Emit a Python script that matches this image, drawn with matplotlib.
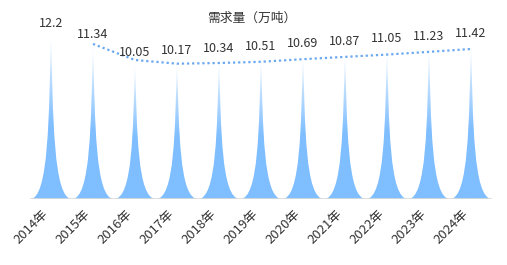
import numpy as np
import matplotlib
matplotlib.use("Agg")
import matplotlib.pyplot as plt
from matplotlib.path import Path
from matplotlib.patches import PathPatch

plt.rcParams['font.family'] = ['Noto Sans CJK SC', 'DejaVu Sans']

years = ['2014年', '2015年', '2016年', '2017年', '2018年', '2019年',
         '2020年', '2021年', '2022年', '2023年', '2024年']
demand = [12.2, 11.34, 10.05, 10.17, 10.34, 10.51, 10.69, 10.87, 11.05, 11.23, 11.42]
labels = ['12.2', '11.34', '10.05', '10.17', '10.34', '10.51', '10.69', '10.87', '11.05', '11.23', '11.42']
# dotted trend line (2015-2024)
trend_years = years[1:]
trend = [11.40, 10.22, 9.95, 10.00, 10.09, 10.28, 10.45, 10.62, 10.82, 11.03]

title = '需求量（万吨）'
bar_rgb = np.array([127, 190, 255]) / 255.0
line_color = '#6aa8f0'

W, H, DPI = 507, 265, 100
fig = plt.figure(figsize=(W / DPI, H / DPI), dpi=DPI)
left_px, right_px, base_px = 30, 492, 199
ymax = 14.0
px_per_unit = 13.6
top_px = base_px - ymax * px_per_unit
ax = fig.add_axes([left_px / W, 1 - base_px / H, (right_px - left_px) / W, (base_px - top_px) / H])
ax.set_xlim(-0.5, len(years) - 0.5)
ax.set_ylim(0, ymax)
for s in ax.spines.values():
    s.set_visible(False)
ax.set_yticks([])

# gradient image: transparent at top -> solid at lower part
n = 256
t = np.linspace(0, 1, n)  # 0 bottom, 1 top
alpha = np.clip((1 - t) / 0.55, 0, 1) ** 0.9
grad = np.zeros((n, 1, 4))
grad[:, 0, 0:3] = bar_rgb
grad[:, 0, 3] = alpha

for i, v in enumerate(demand):
    def P(xn, yn):
        return (i - 0.5 + xn, v * (1 - yn))
    verts = [P(1, 1), P(0.55, 1), P(0.55, 0.5), P(0.5, 0),
             P(0.45, 0.5), P(0.45, 1), P(0, 1), P(1, 1)]
    codes = [Path.MOVETO, Path.CURVE4, Path.CURVE4, Path.CURVE4,
             Path.CURVE4, Path.CURVE4, Path.CURVE4, Path.CLOSEPOLY]
    patch = PathPatch(Path(verts, codes), facecolor='none', edgecolor='none')
    ax.add_patch(patch)
    im = ax.imshow(grad, extent=(i - 0.5, i + 0.5, 0, v), origin='lower',
                   aspect='auto', interpolation='bilinear', zorder=2)
    im.set_clip_path(patch)
    ax.annotate(labels[i], (i, v), xytext=(0, 2.5), textcoords='offset points',
                ha='center', va='bottom', fontsize=9, color='#333333', zorder=5)

tx = [years.index(y) for y in trend_years]
ax.plot(tx, trend, color=line_color, lw=1.6, linestyle=(0, (1, 1.3)), zorder=3)

ax.axhline(0, color='#dcdcdc', lw=1.2, zorder=4)
ax.set_xticks(range(len(years)))
ax.set_xticklabels(years, rotation=45, ha='right', va='top', fontsize=9.4, color='#333333')
ax.tick_params(axis='x', length=0, pad=6)
ax.set_xlim(-0.5, len(years) - 0.5)
ax.set_ylim(0, ymax)

fig.text(252 / W, 1 - 18 / H, title, ha='center', va='center', fontsize=9.2, color='#333333')

fig.savefig('out.png', dpi=DPI)
